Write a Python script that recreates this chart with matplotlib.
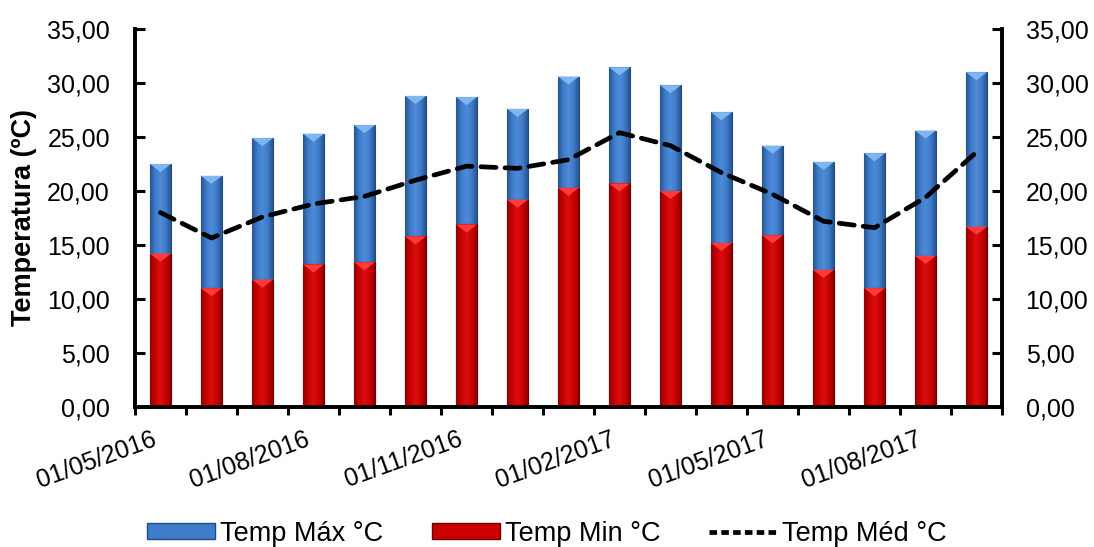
import matplotlib
matplotlib.use("Agg")

import matplotlib.pyplot as plt
import matplotlib.transforms as mtransforms
import numpy as np
from matplotlib.colors import LinearSegmentedColormap
from matplotlib.lines import Line2D
from matplotlib.patches import Patch, Polygon

plt.rcParams["font.family"] = ["Liberation Sans", "DejaVu Sans"]

# --------------------------------------------
# dados (maio/2016 a setembro/2017)
# --------------------------------------------
meses = ["05/2016", "06/2016", "07/2016", "08/2016", "09/2016", "10/2016",
         "11/2016", "12/2016", "01/2017", "02/2017", "03/2017", "04/2017",
         "05/2017", "06/2017", "07/2017", "08/2017", "09/2017"]
temp_max = [22.5, 21.4, 24.9, 25.3, 26.1, 28.8, 28.7, 27.6, 30.6, 31.45,
            29.8, 27.3, 24.2, 22.7, 23.5, 25.6, 31.0]
temp_min = [14.2, 11.0, 11.8, 13.2, 13.4, 15.8, 16.9, 19.2, 20.3, 20.7,
            20.0, 15.2, 15.9, 12.7, 11.0, 14.0, 16.7]
temp_med = [18.0, 15.65, 17.6, 18.8, 19.5, 21.0, 22.3, 22.1, 22.9, 25.4,
            24.2, 21.7, 19.7, 17.2, 16.6, 19.4, 23.6]
rotulos_x = ["01/05/2016", "01/08/2016", "01/11/2016",
             "01/02/2017", "01/05/2017", "01/08/2017"]

AZUL = ["#285592", "#3f7cc9", "#4d8ad8", "#3f7cc9", "#285592"]
VERMELHO = ["#8e0000", "#cc0000", "#d81010", "#cc0000", "#8e0000"]


def bevel_bars(ax, bars, cores, topo, z):
    cmap = LinearSegmentedColormap.from_list("b", cores)
    grad = np.linspace(0, 1, 64).reshape(1, -1)
    for rect in bars:
        x0 = rect.get_x()
        w = rect.get_width()
        h = rect.get_height()
        rect.set_facecolor("none")
        im = ax.imshow(grad, cmap=cmap, extent=[x0, x0 + w, 0, h],
                       aspect="auto", zorder=z, origin="lower")
        im.set_clip_path(rect)
        tri = Polygon([(x0, h), (x0 + w, h), (x0 + w / 2, h - 0.75)],
                      closed=True, facecolor=topo, edgecolor="none",
                      zorder=z + 0.1)
        ax.add_patch(tri)


fig = plt.figure(figsize=(10.94, 5.47), dpi=100)
ax = fig.add_axes([135 / 1094, 1 - 407 / 547, 867 / 1094, 378 / 547])

x = np.arange(len(meses))
b_max = ax.bar(x, temp_max, width=0.41, color="#3f7cc9",
               edgecolor="#23497d", linewidth=0.8, zorder=2)
b_min = ax.bar(x, temp_min, width=0.41, color="#cc0000",
               edgecolor="#6e0000", linewidth=0.8, zorder=3)
bevel_bars(ax, b_max, AZUL, "#7fb6f0", 2)
bevel_bars(ax, b_min, VERMELHO, "#ff3a3a", 3)

ax.plot(x, temp_med, color="black", linewidth=3.4,
        linestyle=(0, (3.2, 1.9)), dash_capstyle="round", zorder=6)

ax.set_xlim(-0.5, len(meses) - 0.5)
ax.set_ylim(0, 35)
ax.set_yticks(np.arange(0, 35.1, 5))
ax.set_yticklabels([f"{v:.2f}".replace(".", ",") for v in np.arange(0, 35.1, 5)])

# ticks mensais nos limites das categorias, rotulos a cada 3 meses
ticks_rot = np.arange(-0.5, len(meses), 3)
ax.set_xticks(ticks_rot)
ax.set_xticklabels([])
ax.set_xticks(np.arange(-0.5, len(meses), 1), minor=True)
offset = mtransforms.ScaledTranslation(0.16, -0.20, fig.dpi_scale_trans)
for t, rot in zip(ticks_rot, rotulos_x):
    ax.text(t, 0, rot, transform=ax.get_xaxis_transform() + offset,
            rotation=20, ha="right", va="top", rotation_mode="anchor",
            fontsize=18, clip_on=False)

ax.tick_params(axis="x", which="both", direction="out", length=6,
               width=2.2, pad=4)
ax.tick_params(axis="y", direction="in", length=7, width=2.2,
               labelsize=18, pad=18)

ax.set_ylabel("Temperatura (ºC)", fontsize=19.5, fontweight="bold",
              labelpad=7)

ax2 = ax.twinx()
ax2.set_ylim(ax.get_ylim())
ax2.set_yticks(ax.get_yticks())
ax2.set_yticklabels([f"{v:.2f}".replace(".", ",") for v in np.arange(0, 35.1, 5)])
ax2.tick_params(axis="y", direction="in", length=7, width=2.2,
                labelsize=18, pad=17)

for a in (ax, ax2):
    a.spines["top"].set_visible(False)
    for s in ("left", "right", "bottom"):
        a.spines[s].set_linewidth(2.6)

handles = [
    Patch(facecolor="#3f7cc9", edgecolor="#23497d", label="Temp Máx °C"),
    Patch(facecolor="#cc0000", edgecolor="#6e0000", label="Temp Min °C"),
    Line2D([0], [0], color="black", linewidth=3.4, linestyle=(0, (1.6, 0.9)),
           label="Temp Méd °C"),
]
fig.legend(handles=handles, loc="center", bbox_to_anchor=(0.5, 0.024),
           ncol=3, frameon=False, fontsize=19.5, handlelength=2.5,
           handleheight=0.55, handletextpad=0.2, columnspacing=1.8,
           borderpad=0.1)

fig.savefig("out.png", dpi=100)
